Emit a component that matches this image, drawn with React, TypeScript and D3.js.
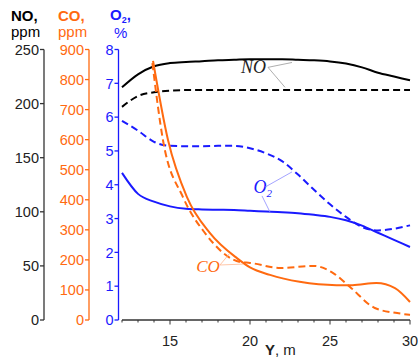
import React from "react";
import * as d3 from "d3";

const W = 418;
const H = 361;

// x positions (Y, m)
const yPos = [12, 13, 14, 15, 16, 17, 18, 19, 20, 21, 22, 23, 24, 25, 26, 27, 28, 29, 30];
// NO, ppm
const noSolid = [215, 227, 234.5, 237.5, 238.5, 239.2, 240, 240.5, 241, 241, 241, 240.5, 240, 239, 237, 233.5, 228.5, 225, 221.5];
const noDashed = [197, 207, 210.5, 212, 212.5, 212.5, 212.5, 212.5, 212.5, 212.5, 212.5, 212.5, 212.5, 212.5, 212.5, 212.5, 212.5, 212.5, 212.5];
// O2, %
const o2Solid = [4.35, 3.73, 3.5, 3.36, 3.29, 3.27, 3.26, 3.25, 3.23, 3.21, 3.19, 3.16, 3.11, 3.05, 2.95, 2.79, 2.58, 2.37, 2.16];
const o2Dashed = [5.89, 5.6, 5.27, 5.15, 5.14, 5.14, 5.15, 5.15, 5.08, 4.93, 4.7, 4.3, 3.85, 3.42, 3.05, 2.75, 2.65, 2.7, 2.8];
// CO, ppm
const coSolidX = [13.94, 14.875, 16.06, 17.5, 19.2, 20, 21.25, 23.1, 25.4, 26.4, 27.9, 29.06, 30];
const coSolid = [862, 599, 409, 289, 205, 175, 150, 127, 116, 116, 123, 106, 60];
const coDashedX = [13.9, 14.56, 15.81, 17.19, 19.4, 20, 21.9, 24, 25.2, 26.25, 27.8, 29.2, 30];
const coDashed = [855, 599, 409, 289, 193, 190, 173, 180, 156, 110, 40, 23, 17];

// tick labels
const noTicks = [0, 50, 100, 150, 200, 250];
const coTicks = [0, 100, 200, 300, 400, 500, 600, 700, 800, 900];
const o2Ticks = [0, 1, 2, 3, 4, 5, 6, 7, 8];
const xMajor = [15, 20, 25, 30];
const xMinor = d3.range(12, 31, 1);

const BLACK = "#000";
const AXIS = "#333";
const ORANGE = "#ff6a10";
const BLUE = "#1a1aff";
const FONT = "Liberation Sans, Arial, sans-serif";

export default function App() {
  const x = d3.scaleLinear().domain([12, 30]).range([122, 410]);
  const top = 49.5;
  const bottom = 320;
  const yNO = d3.scaleLinear().domain([0, 250]).range([bottom, top]);
  const yCO = d3.scaleLinear().domain([0, 900]).range([bottom, top]);
  const yO2 = d3.scaleLinear().domain([0, 8]).range([bottom, top]);

  const mk = (xs: number[], vs: number[], ys: d3.ScaleLinear<number, number>) =>
    d3
      .line<number>()
      .x((_, i) => x(xs[i]))
      .y((v) => ys(v))
      .curve(d3.curveMonotoneX)(vs) || "";

  const yAxis = (
    ax: number,
    ticks: number[],
    scale: d3.ScaleLinear<number, number>,
    color: string,
    textColor: string
  ) => (
    <g>
      <line x1={ax} x2={ax} y1={top} y2={bottom} stroke={color} strokeWidth={1.3} />
      {ticks.map((t) => (
        <g key={t}>
          <line x1={ax - 4} x2={ax} y1={scale(t)} y2={scale(t)} stroke={color} strokeWidth={1.3} />
          <text
            x={ax - 5}
            y={scale(t)}
            dy="0.36em"
            textAnchor="end"
            fontSize={14.5}
            fontFamily={FONT}
            fill={textColor}
          >
            {t}
          </text>
        </g>
      ))}
    </g>
  );

  const lead = (x1: number, y1: number, x2: number, y2: number, c: string) => (
    <line x1={x1} y1={y1} x2={x2} y2={y2} stroke={c} strokeWidth={0.8} />
  );

  return (
    <svg
      width={W}
      height={H}
      style={{ position: "absolute", left: 0, top: 0, background: "#fff" }}
    >
      {/* header labels */}
      <g fontFamily={FONT} fontSize={15}>
        <text x={11} y={21} fontWeight="bold" fill={BLACK}>NO,</text>
        <text x={11} y={37} fill={BLACK}>ppm</text>
        <text x={58} y={21} fontWeight="bold" fill={ORANGE}>CO,</text>
        <text x={58} y={37} fill={ORANGE}>ppm</text>
        <text x={110} y={20} fontWeight="bold" fill={BLUE}>
          O<tspan fontSize={9} dy={2.5}>2</tspan><tspan dy={-2.5}>,</tspan>
        </text>
        <text x={114} y={38} fill={BLUE}>%</text>
      </g>

      {yAxis(44, noTicks, yNO, AXIS, "#222")}
      {yAxis(89, coTicks, yCO, ORANGE, ORANGE)}
      {yAxis(118.5, o2Ticks, yO2, BLUE, BLUE)}

      {/* x axis */}
      <g>
        <line x1={x(12)} x2={x(30)} y1={bottom} y2={bottom} stroke={AXIS} strokeWidth={1.3} />
        {xMinor.map((t) => (
          <line
            key={t}
            x1={x(t)}
            x2={x(t)}
            y1={bottom}
            y2={bottom + (t % 5 === 0 ? 4.5 : 2.5)}
            stroke={AXIS}
            strokeWidth={1}
          />
        ))}
        {xMajor.map((t) => (
          <text
            key={t}
            x={x(t)}
            y={346}
            textAnchor="middle"
            fontSize={14.5}
            fontFamily={FONT}
            fill="#222"
          >
            {t}
          </text>
        ))}
        <text x={265} y={355} fontSize={15} fontFamily={FONT} fill="#222">
          <tspan fontWeight="bold">Y</tspan>, m
        </text>
      </g>

      {/* series */}
      <path d={mk(yPos, noSolid, yNO)} fill="none" stroke={BLACK} strokeWidth={2} />
      <path d={mk(yPos, noDashed, yNO)} fill="none" stroke={BLACK} strokeWidth={2} strokeDasharray="7,4" />
      <path d={mk(yPos, o2Solid, yO2)} fill="none" stroke={BLUE} strokeWidth={2} />
      <path d={mk(yPos, o2Dashed, yO2)} fill="none" stroke={BLUE} strokeWidth={2} strokeDasharray="7,4" />
      <path d={mk(coSolidX, coSolid, yCO)} fill="none" stroke={ORANGE} strokeWidth={2} />
      <path d={mk(coDashedX, coDashed, yCO)} fill="none" stroke={ORANGE} strokeWidth={2} strokeDasharray="7,4" />

      {/* annotations */}
      <g fontFamily="Liberation Serif, Times New Roman, serif" fontStyle="italic" fontSize={18}>
        <text x={x(20.22)} y={yNO(228)} textAnchor="middle" fill="#222">NO</text>
        {lead(x(21.125), yNO(233.5), x(22.625), yNO(238), "#999")}
        {lead(x(21.125), yNO(233.5), x(22.19), yNO(215), "#999")}

        <text x={x(20.22)} y={yO2(3.756)} fill={BLUE}>
          O<tspan fontSize={11} dy={4}>2</tspan>
        </text>
        {lead(x(20.94), yO2(3.93), x(22.625), yO2(4.38), "#8c8cff")}
        {lead(x(20.75), yO2(3.67), x(21.25), yO2(3.19), "#8c8cff")}

        <text x={x(17.375)} y={yCO(160)} textAnchor="middle" fill={ORANGE} fontSize={17}>CO</text>
        {lead(x(18.125), yCO(183), x(18.75), yCO(223), "#ffb890")}
        {lead(x(18.125), yCO(183), x(19.56), yCO(186), "#ffb890")}
      </g>
    </svg>
  );
}
